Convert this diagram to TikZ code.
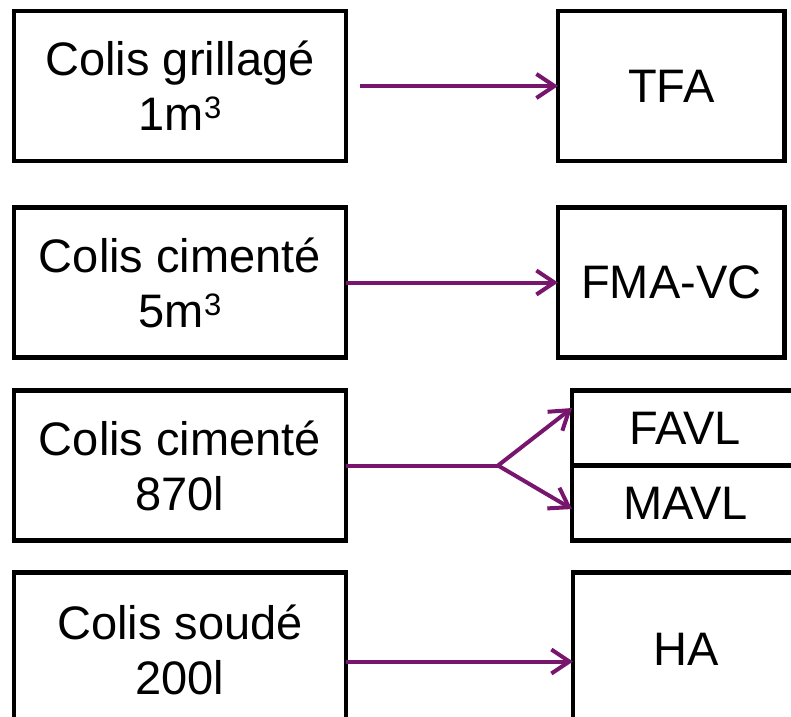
\documentclass[tikz,border=0pt]{standalone}
\usepackage{fontspec}
\setmainfont{Liberation Sans}
\usepackage{xcolor}
\usetikzlibrary{positioning,arrows.meta}
\definecolor{flowpurple}{RGB}{120,22,110}
\newcommand{\cubed}{\raisebox{12pt}{\fontsize{31}{31}\selectfont 3}}

\begin{document}
\begin{tikzpicture}[
		x=1pt, y=1pt,
		colisbox/.style={
			draw,
			line width=4.5pt,
			outer sep=0pt,
			align=center,
			minimum width=332pt,
			minimum height=150pt,
			font=\fontsize{47}{55}\selectfont
		},
		classbox/.style={colisbox, minimum width=226.5pt},
		arrow/.style={-{Straight Barb[length=18pt,width=24pt]}, line width=4pt, draw=flowpurple}
	]
		\useasboundingbox (0,0) rectangle (791,-716);
		\clip (0,0) rectangle (791,-716);

		\node[colisbox] (colis1) at (180,-86) {Colis grillagé\\1m\cubed};
		\node[colisbox, below=46.5pt of colis1] (colis2) {Colis cimenté\\5m\cubed};
		\node[colisbox, below=33pt of colis2] (colis3) {Colis cimenté\\870l};
		\node[colisbox, below=32pt of colis3, minimum height=154pt] (colis4) {Colis soudé\\200l};

		\node[classbox, right=212pt of colis1] (tfa) {TFA};
		\node[classbox, right=212pt of colis2] (fmavc) {FMA-VC};
		\node[classbox, right=226pt of colis3.north east, anchor=north west, minimum height=75pt] (favl) {FAVL};
		\node[classbox, below=0pt of favl, minimum height=75pt] (mavl) {MAVL};
		\node[classbox, right=227pt of colis4, minimum height=154pt] (ha) {HA};

		\coordinate[right=152pt of colis3.east] (split);

		\draw[arrow, shorten <=14pt] (colis1) -- (tfa);
		\draw[arrow] (colis2) -- (fmavc);
		\draw[arrow, -] (colis3) -- (split);
		\draw[arrow] (split) -- ([yshift=20pt]favl.west);
		\draw[arrow] (split) -- ([yshift=-6pt]mavl.west);
		\draw[arrow] ([yshift=-12pt]colis4.east) -- ([yshift=-12pt]ha.west);
	\end{tikzpicture}
\end{document}
